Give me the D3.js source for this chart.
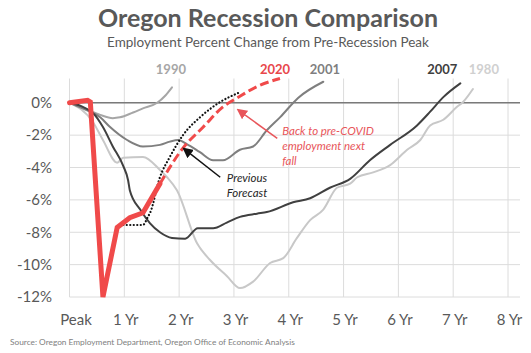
<!DOCTYPE html>
<html>
<head>
<meta charset="utf-8">
<script src="https://cdn.jsdelivr.net/npm/d3@7"></script>
<style>
  html, body { margin: 0; padding: 0; background: #fff; }
  svg { display: block; font-family: Lato, "Open Sans", sans-serif; }
</style>
</head>
<body>
<svg id="chart" width="531" height="353"></svg>
<script>
// Years since pre-recession peak vs. employment % change
const xTickLabels = ["Peak", "1 Yr", "2 Yr", "3 Yr", "4 Yr", "5 Yr", "6 Yr", "7 Yr", "8 Yr"];
const yTicks = [0, -2, -4, -6, -8, -10, -12];

const s1980 = [[0,0],[0.43,-1.2],[0.61,-2.3],[0.87,-3.7],[0.98,-3.4],[1.34,-3.35],[1.65,-4.15],[1.78,-4.6],[1.96,-5.4],[2.33,-8.7],[2.56,-9.7],[2.87,-10.7],[3.11,-11.45],[3.35,-11.05],[3.66,-9.9],[3.9,-9.6],[4.15,-8.35],[4.39,-7.25],[4.63,-6.6],[4.88,-5.25],[5.12,-5.0],[5.25,-4.6],[5.54,-4.3],[5.85,-3.85],[6.16,-2.9],[6.4,-2.3],[6.58,-1.4],[6.82,-1.05],[7.07,-0.25],[7.18,0.05],[7.36,0.85]];
const s1990 = [[0,0],[0.28,-0.35],[0.56,-0.75],[0.79,-0.95],[0.92,-0.9],[1.16,-0.6],[1.34,-0.35],[1.6,0],[1.75,0.45],[1.87,0.95]];
const s2001 = [[0,0],[0.28,-0.4],[0.56,-0.9],[0.74,-1.5],[1.05,-2.3],[1.34,-2.7],[1.65,-2.6],[1.83,-2.4],[1.98,-2.3],[2.14,-2.55],[2.38,-3.05],[2.62,-3.55],[2.8,-3.55],[3.11,-2.9],[3.35,-2.7],[3.6,-1.7],[3.84,-0.9],[4.17,0.3],[4.63,1.3]];
const s2007 = [[0,0],[0.43,-0.65],[0.61,-1.5],[0.79,-2.7],[0.98,-3.9],[1.07,-4.8],[1.1,-5.4],[1.29,-6.6],[1.47,-7.45],[1.65,-8.0],[1.87,-8.35],[2.11,-8.4],[2.34,-7.75],[2.62,-7.75],[2.87,-7.4],[3.11,-7.05],[3.42,-6.85],[3.6,-6.75],[4.08,-6.15],[4.39,-5.9],[4.75,-5.25],[5.12,-4.7],[5.48,-3.55],[5.85,-2.6],[6.34,-1.4],[6.58,-0.55],[6.82,0.35],[7.13,1.2]];
const s2020Actual = [[0,0],[0.33,0.15],[0.38,0.05],[0.61,-12.0],[0.87,-7.7],[1.1,-7.1],[1.34,-6.8],[1.65,-5.0]];
const s2020Forecast = [[1.65,-5.0],[2.07,-2.8],[2.44,-1.5],[2.8,-0.25],[3.06,0.3],[3.42,1.0],[3.84,1.5]];
const sPrevForecast = [[0.98,-7.55],[1.34,-7.55],[1.43,-7.05],[1.47,-6.8],[1.65,-4.6],[1.83,-3.35],[2.07,-2.0],[2.38,-0.9],[2.75,0.05],[3.11,0.65]];

const seriesLabels = [
  { text: "1990", x: 1.85, color: "#a6a6a6" },
  { text: "2020", x: 3.75, color: "#e8474b" },
  { text: "2001", x: 4.66, color: "#7f7f7f" },
  { text: "2007", x: 6.8, color: "#3f3f3f" },
  { text: "1980", x: 7.56, color: "#d0d0d0" }
];

const svg = d3.select("#chart");
const x = d3.scaleLinear().domain([0, 8]).range([69.5, 508]);
const y = d3.scaleLinear().domain([-12, 1.5]).range([297, 78.5]);

// Title block
svg.append("text").attr("x", 268).attr("y", 27).attr("text-anchor", "middle")
  .attr("font-size", 25).attr("font-weight", "bold").attr("fill", "#595959")
  .text("Oregon Recession Comparison");
svg.append("text").attr("x", 268).attr("y", 47).attr("text-anchor", "middle")
  .attr("font-size", 13.5).attr("fill", "#595959")
  .text("Employment Percent Change from Pre-Recession Peak");

// Gridlines
const grid = svg.append("g");
grid.selectAll("line.h").data(yTicks).join("line")
  .attr("x1", x(0)).attr("x2", 520)
  .attr("y1", d => y(d)).attr("y2", d => y(d))
  .attr("stroke", "#dcdcdc").attr("stroke-width", 1);
grid.selectAll("line.v").data(d3.range(0, 9)).join("line")
  .attr("x1", d => x(d)).attr("x2", d => x(d))
  .attr("y1", y(1.5)).attr("y2", y(-12))
  .attr("stroke", "#dcdcdc").attr("stroke-width", 1);
svg.append("line").attr("x1", x(0)).attr("x2", 520)
  .attr("y1", y(0)).attr("y2", y(0))
  .attr("stroke", "#7a7a7a").attr("stroke-width", 1.5);

// Axes
const yAxis = d3.axisLeft(y).tickValues(yTicks).tickSize(0).tickPadding(0)
  .tickFormat(d => d + "%");
svg.append("g").attr("transform", "translate(52,0)").call(yAxis)
  .call(g => g.select(".domain").remove())
  .call(g => g.selectAll("text").attr("font-size", 15).attr("fill", "#595959")
    .attr("font-family", "Lato, 'Open Sans', sans-serif"));

const xAxis = d3.axisBottom(x).tickValues(d3.range(0, 9)).tickSize(0).tickPadding(0)
  .tickFormat(i => xTickLabels[i]);
svg.append("g").attr("transform", "translate(0,314)").call(xAxis)
  .call(g => g.select(".domain").remove())
  .call(g => g.selectAll("text").attr("font-size", 15).attr("fill", "#595959")
    .attr("font-family", "Lato, 'Open Sans', sans-serif")
    .attr("dx", (d) => d === 0 ? 6 : 1));

// Lines
const smooth = d3.line().x(d => x(d[0])).y(d => y(d[1])).curve(d3.curveMonotoneX);
const straight = d3.line().x(d => x(d[0])).y(d => y(d[1]));

const lines = svg.append("g").attr("fill", "none").attr("stroke-linejoin", "round").attr("stroke-linecap", "round");
lines.append("path").attr("d", smooth(s1980)).attr("stroke", "#c8c8c8").attr("stroke-width", 2);
lines.append("path").attr("d", smooth(s1990)).attr("stroke", "#a6a6a6").attr("stroke-width", 2);
lines.append("path").attr("d", smooth(s2001)).attr("stroke", "#7f7f7f").attr("stroke-width", 2);
lines.append("path").attr("d", smooth(s2007)).attr("stroke", "#404040").attr("stroke-width", 2);
lines.append("path").attr("d", smooth(sPrevForecast)).attr("stroke", "#111")
  .attr("stroke-width", 2.2).attr("stroke-dasharray", "0.1,3.4");
lines.append("path").attr("d", smooth(s2020Forecast)).attr("stroke", "#f04a4a")
  .attr("stroke-width", 3).attr("stroke-linecap", "butt").attr("stroke-dasharray", "9,4");
lines.append("path").attr("d", straight(s2020Actual)).attr("stroke", "#f04a4a")
  .attr("stroke-width", 5).attr("stroke-linejoin", "miter");

// Series year labels
svg.append("g").selectAll("text").data(seriesLabels).join("text")
  .attr("x", d => x(d.x)).attr("y", 74).attr("text-anchor", "middle")
  .attr("font-size", 13).attr("font-weight", "bold")
  .attr("fill", d => d.color).text(d => d.text);

// Annotations
const defs = svg.append("defs");
function marker(id, color) {
  defs.append("marker").attr("id", id).attr("viewBox", "0 0 10 10")
    .attr("refX", 8).attr("refY", 5).attr("markerWidth", 7).attr("markerHeight", 7)
    .attr("orient", "auto")
    .append("path").attr("d", "M0,0 L10,5 L0,10 Z").attr("fill", color);
}
marker("arrRed", "#e8555a");
marker("arrBlack", "#111");

svg.append("line").attr("x1", x(3.79)).attr("y1", y(-2.2)).attr("x2", x(3.08)).attr("y2", y(-0.45))
  .attr("stroke", "#e8555a").attr("stroke-width", 1.5).attr("marker-end", "url(#arrRed)");
svg.append("line").attr("x1", x(2.75)).attr("y1", y(-4.6)).attr("x2", x(2.09)).attr("y2", y(-2.85))
  .attr("stroke", "#111").attr("stroke-width", 1.5).attr("marker-end", "url(#arrBlack)");

const redNote = svg.append("text").attr("font-size", 11.5).attr("font-style", "italic").attr("fill", "#e8555a");
["Back to pre-COVID", "employment next", "fall"].forEach((t, i) =>
  redNote.append("tspan").attr("x", x(3.88)).attr("y", 135 + i * 15).text(t));

const blackNote = svg.append("text").attr("font-size", 11.5).attr("font-style", "italic").attr("fill", "#262626");
["Previous", "Forecast"].forEach((t, i) =>
  blackNote.append("tspan").attr("x", x(2.87)).attr("y", 182 + i * 15).text(t));

// Source line
svg.append("text").attr("x", 10).attr("y", 345).attr("font-size", 8.3).attr("fill", "#808080")
  .text("Source: Oregon Employment Department, Oregon Office of Economic Analysis");
</script>
</body>
</html>
